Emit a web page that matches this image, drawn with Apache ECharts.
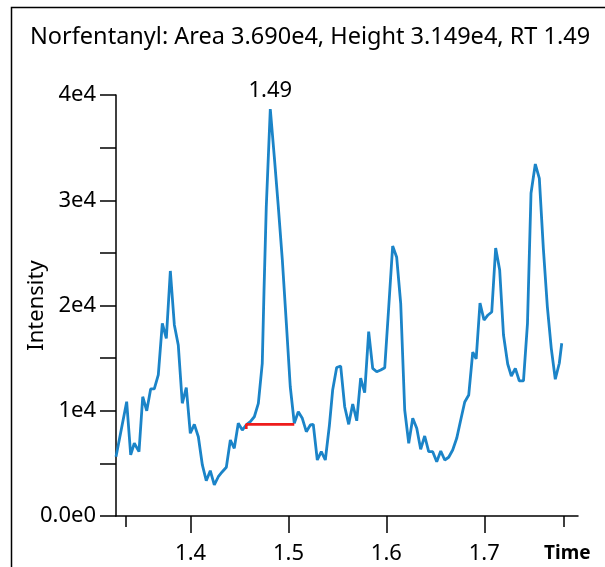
<!DOCTYPE html>
<html>
<head>
<meta charset="utf-8">
<script src="https://cdn.jsdelivr.net/npm/echarts@6/dist/echarts.min.js"></script>
<style>
  html, body { margin: 0; padding: 0; background: #fff; }
  #main { width: 605px; height: 567px; }
</style>
</head>
<body>
<div id="main"></div>
<script>
// retention time (min) and intensity
var times = [
  1.3238, 1.3347, 1.3388, 1.3425, 1.3473, 1.3511, 1.3552, 1.3592, 1.3629, 1.3670,
  1.3711, 1.3752, 1.3793, 1.3834, 1.3874, 1.3915, 1.3956, 1.3997, 1.4038, 1.4079,
  1.4120, 1.4160, 1.4201, 1.4242, 1.4283, 1.4324, 1.4365, 1.4406, 1.4446, 1.4487,
  1.4528, 1.4569, 1.4610, 1.4651, 1.4692, 1.4732, 1.4750, 1.4773, 1.4814, 1.4855,
  1.4896, 1.4937, 1.4978, 1.5018, 1.5059, 1.5100, 1.5141, 1.5182, 1.5223, 1.5253,
  1.5294, 1.5335, 1.5376, 1.5417, 1.5451, 1.5492, 1.5533, 1.5574, 1.5615, 1.5656,
  1.5697, 1.5737, 1.5778, 1.5819, 1.5860, 1.5901, 1.5942, 1.5983, 1.6024, 1.6064,
  1.6105, 1.6146, 1.6187, 1.6228, 1.6269, 1.6310, 1.6350, 1.6391, 1.6432, 1.6473,
  1.6514, 1.6555, 1.6596, 1.6636, 1.6677, 1.6718, 1.6759, 1.6800, 1.6841, 1.6882,
  1.6917, 1.6956, 1.6997, 1.7038, 1.7076, 1.7116, 1.7157, 1.7196, 1.7239, 1.7276,
  1.7317, 1.7357, 1.7400, 1.7441, 1.7477, 1.7521, 1.7562, 1.7603, 1.7644, 1.7684,
  1.7725, 1.7766, 1.7791
];
var intensity = [
  5630, 10860, 5800, 6910, 6110, 11330, 10000, 12070, 12070, 13400,
  18310, 16880, 23280, 18150, 16250, 10710, 12190, 7860, 8710, 7530,
  4850, 3350, 4300, 2950, 3730, 4210, 4630, 7220, 6430, 8810,
  8170, 8650, 8960, 9430, 10710, 14510, 21470, 29380, 38670, 34130,
  29380, 24320, 18310, 12280, 8810, 9910, 9280, 8010, 8650, 8710,
  5320, 6110, 5320, 8550, 11970, 14110, 14250, 10380, 8710, 10640,
  9050, 13110, 11710, 17510, 14030, 13710, 13870, 14090, 19880, 25650,
  24580, 20210, 10070, 6910, 9280, 8330, 6340, 7600, 6110, 6110,
  5160, 6180, 5320, 5580, 6270, 7380, 9120, 10830, 11500, 15580,
  14920, 20240, 18620, 19100, 19380, 25460, 23370, 17200, 14440, 13300,
  14030, 12850, 12830, 18310, 30660, 33440, 32080, 25430, 19880, 15930,
  12990, 14510, 16410
];
// integration baseline (red), with the short hook at its start
var baselineTimes = [1.4569, 1.4569, 1.5059];
var baselineValues = [8270, 8710, 8710];

var rtLabel = '1.49';
var titleText = 'Norfentanyl: Area 3.690e4, Height 3.149e4, RT 1.49';
var xTicks = [1.4, 1.5, 1.6, 1.7];
var xEdgeTicks = [1.3337, 1.7814];
var yLabelValues = [0, 10000, 20000, 30000, 40000];

var xMin = 1.3238, xMax = 1.7957;
var FONT = '"Noto Sans"';

var peakIdx = 0;
for (var i = 1; i < intensity.length; i++) {
  if (intensity[i] > intensity[peakIdx]) peakIdx = i;
}
var traceData = times.map(function (t, i) { return [t, intensity[i]]; });
var baselineData = baselineTimes.map(function (t, i) { return [t, baselineValues[i]]; });

var chart = echarts.init(document.getElementById('main'));
chart.setOption({
  animation: false,
  backgroundColor: '#fff',
  title: {
    text: titleText,
    left: 25, top: 20,
    textStyle: { fontFamily: FONT, fontSize: 23.5, fontWeight: 'normal', color: '#000' }
  },
  graphic: [{
    type: 'rect',
    shape: { x: 11.5, y: 7.5, width: 700, height: 700 },
    style: { fill: 'none', stroke: '#000', lineWidth: 1.5 },
    silent: true
  }],
  grid: { left: 116, right: 27, top: 95, bottom: 51 },
  xAxis: [{
    type: 'value',
    min: xMin, max: xMax,
    name: 'Time',
    nameLocation: 'end',
    nameGap: -34,
    nameMoveOverlap: false,
    nameTextStyle: {
      fontFamily: FONT, fontSize: 19, fontWeight: 'bold', color: '#000',
      verticalAlign: 'top', padding: [28, 0, 0, 0]
    },
    splitLine: { show: false },
    axisLine: { lineStyle: { color: '#000', width: 1.5 } },
    axisTick: { length: 17, customValues: xTicks, lineStyle: { color: '#000', width: 1.5 } },
    axisLabel: {
      customValues: xTicks, margin: 27,
      fontFamily: FONT, fontSize: 22, color: '#000',
      formatter: function (v) { return v.toFixed(1); }
    }
  }, {
    type: 'value',
    min: xMin, max: xMax,
    position: 'bottom',
    splitLine: { show: false },
    axisLine: { show: false },
    axisTick: { length: 11, customValues: xEdgeTicks, lineStyle: { color: '#000', width: 1.5 } },
    axisLabel: { show: false }
  }],
  yAxis: {
    type: 'value',
    min: 0, max: 40000, interval: 5000,
    name: 'Intensity',
    nameLocation: 'middle',
    nameRotate: 90,
    nameGap: 68,
    nameMoveOverlap: false,
    nameTextStyle: { fontFamily: FONT, fontSize: 22, color: '#000' },
    splitLine: { show: false },
    axisLine: { show: true, lineStyle: { color: '#000', width: 1.5 } },
    axisTick: { show: true, length: 16, lineStyle: { color: '#000', width: 1.5 } },
    axisLabel: {
      customValues: yLabelValues, margin: 20,
      fontFamily: FONT, fontSize: 22, color: '#000',
      formatter: function (v) { return v === 0 ? '0.0e0' : (v / 10000) + 'e4'; }
    }
  },
  series: [{
    type: 'line',
    data: traceData,
    showSymbol: false,
    symbol: 'none',
    lineStyle: { color: '#1b84c8', width: 2.8 },
    markPoint: {
      symbol: 'circle',
      symbolSize: 0,
      data: [{ coord: traceData[peakIdx], value: rtLabel }],
      label: {
        show: true, position: 'top', distance: 7, formatter: rtLabel,
        fontFamily: FONT, fontSize: 22, color: '#000'
      }
    },
    z: 2
  }, {
    type: 'line',
    data: baselineData,
    showSymbol: false,
    symbol: 'none',
    lineStyle: { color: '#ee1c1c', width: 2.6 },
    z: 3
  }]
});
</script>
</body>
</html>
